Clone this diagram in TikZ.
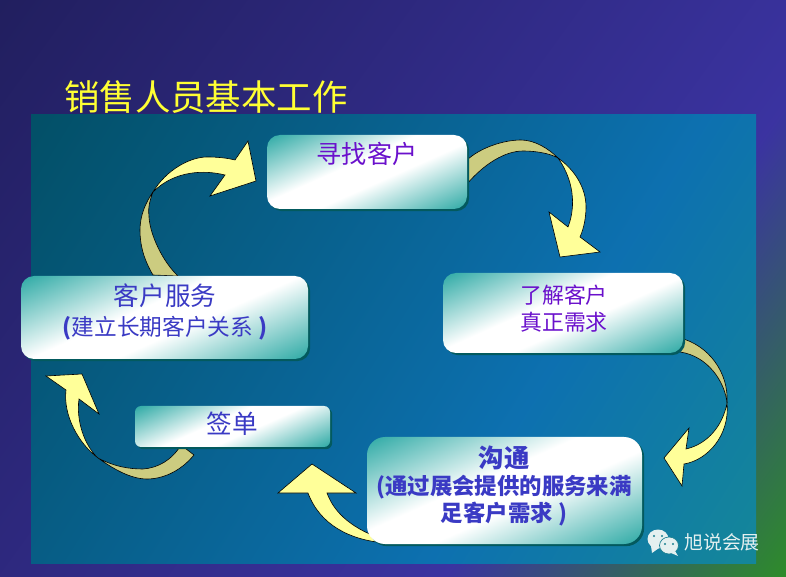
\documentclass[tikz,border=0pt]{standalone}
\usepackage{fontspec}
\setmainfont{Noto Sans CJK SC}
\usetikzlibrary{shadows}
\definecolor{titleyellow}{HTML}{FFFF33}
\definecolor{arrowfront}{HTML}{FFFF99}
\definecolor{arrowback}{HTML}{CCCC80}
\definecolor{boxshadow}{HTML}{035A5E}
\definecolor{textpurple}{HTML}{6A10CC}
\definecolor{textblue}{HTML}{3A3AC4}
\definecolor{markwhite}{HTML}{E4F0F0}
\definecolor{markeye}{HTML}{1A7F90}
\pgfdeclarehorizontalshading{outershade}{100bp}{
	rgb(0bp)=(.13,.12,.37);
	rgb(15bp)=(.13,.12,.37);
	rgb(65bp)=(.23,.20,.63);
	rgb(85bp)=(.18,.55,.16);
	rgb(100bp)=(.18,.55,.16)}
\pgfdeclarehorizontalshading{panelshade}{100bp}{
	rgb(0bp)=(.01,.31,.40);
	rgb(15bp)=(.01,.31,.40);
	rgb(62bp)=(.05,.44,.69);
	rgb(85bp)=(.08,.53,.60);
	rgb(100bp)=(.08,.53,.60)}
\pgfdeclarehorizontalshading{boxshade}{100bp}{
	rgb(0bp)=(.09,.63,.61);
	rgb(14bp)=(.09,.63,.61);
	rgb(44bp)=(1,1,1);
	rgb(56bp)=(1,1,1);
	rgb(86bp)=(.09,.63,.61);
	rgb(100bp)=(.09,.63,.61)}
\tikzset{
	boxnode/.style={shading=boxshade, shading angle=-66, rounded corners=13*.75pt, inner sep=0pt,
		drop shadow={shadow xshift=1.6pt, shadow yshift=-1.6pt, fill=boxshadow, opacity=1}},
	curlfront/.style={fill=arrowfront, draw=black, line width=.45pt, line join=miter},
	curlback/.style={fill=arrowback, draw=black, line width=.45pt},
	purplelabel/.style={text=textpurple, inner sep=0pt},
	bluelabel/.style={text=textblue, inner sep=0pt},
	boldlabel/.style={text=textblue, inner sep=0pt, font=\bfseries}
}
\begin{document}
\begin{tikzpicture}[x=.75pt, y=-.75pt]
	\useasboundingbox (0,0) rectangle (786,577);
	%background
	\shade[shading=outershade, shading angle=-36] (0,0) rectangle (786,577);
	\node[text=titleyellow, inner sep=0pt, font=\fontsize{26.6}{28}\selectfont] (title) at (206,97) {销售人员基本工作};
	\shade[shading=panelshade, shading angle=-32] (31,114.4) rectangle (756,563.6);
	%arrow service to find
	\draw[curlback] (153,275) .. controls (143,258) and (140,244) .. (140,230)
		.. controls (140,215) and (146,202) .. (153,192)
		.. controls (149,202) and (148,210) .. (149,217)
		.. controls (150,235) and (163,262) .. (178,276) -- cycle;
	\draw[curlfront] (153,192) .. controls (166,170) and (190,157) .. (207,157)
		.. controls (218,157) and (227,158) .. (235,160)
		-- (248,141) -- (256,181) -- (210,196) -- (225,175)
		.. controls (205,170) and (175,170) .. (153,192) -- cycle;
	%arrow find to need
	\draw[curlback] (467,160) .. controls (480,148) and (503,140) .. (521,140)
		.. controls (535,140) and (549,149) .. (558,158)
		.. controls (549,153) and (535,151) .. (523,151)
		.. controls (505,151) and (484,164) .. (467,184) -- cycle;
	\draw[curlfront] (558,158) .. controls (575,170) and (586,188) .. (586,207)
		.. controls (586,217) and (584,228) .. (580,237)
		-- (600,252) -- (560,257) -- (549,212) -- (568,227)
		.. controls (574,212) and (577,185) .. (558,158) -- cycle;
	%arrow need to talk
	\draw[curlback] (680,338) .. controls (708,345) and (729,372) .. (727,403)
		.. controls (725,382) and (708,356) .. (680,352) -- cycle;
	\draw[curlfront] (727,403) .. controls (723,425) and (708,444) .. (686,449)
		-- (689,428) -- (664,458) -- (682,486) -- (684,464)
		.. controls (708,460) and (730,435) .. (727,403) -- cycle;
	%arrow talk to sign
	\draw[curlfront] (385,543) .. controls (350,540) and (320,525) .. (308,493)
		-- (278,493) -- (312,464) -- (356,493) -- (327,493)
		.. controls (335,515) and (355,530) .. (385,540) -- cycle;
	%arrow sign to service
	\draw[curlback] (181,445) -- (194,455) .. controls (180,472) and (162,479) .. (147,479)
		.. controls (130,479) and (112,468) .. (98,458)
		.. controls (115,467) and (130,469) .. (143,469)
		.. controls (158,468) and (172,460) .. (181,445) -- cycle;
	\draw[curlfront] (98,458) .. controls (78,443) and (63,415) .. (66,390)
		-- (46,376) -- (82,374) -- (99,414) -- (79,399)
		.. controls (76,420) and (84,445) .. (98,458) -- cycle;
	%boxes
	\node[boxnode, minimum width=150pt, minimum height=55.5pt] (find) at (367,172) {};
	\node[boxnode, minimum width=180pt, minimum height=60pt] (need) at (563,313) {};
	\node[boxnode, minimum width=215.25pt, minimum height=62.25pt] (service) at (164.5,317.5) {};
	\node[boxnode, rounded corners=4.5pt, minimum width=146.25pt, minimum height=30.75pt] (sign) at (232.5,426.5) {};
	\node[boxnode, rounded corners=13.5pt, minimum width=206.25pt, minimum height=80.25pt] (talk) at (504.5,490.5) {};
	%labels
	\node[purplelabel, font=\fontsize{18.8}{20}\selectfont] (findtext) at (367,154) {寻找客户};
	\node[purplelabel, font=\fontsize{16.4}{18}\selectfont] (needtext) at (564,295) {了解客户};
	\node[purplelabel, font=\fontsize{16.4}{18}\selectfont] (needtextb) at (564,322) {真正需求};
	\node[bluelabel, font=\fontsize{19.2}{21}\selectfont] (servicetext) at (165,296) {客户服务};
	\node[bluelabel, font=\fontsize{17}{18}\selectfont] (servicetextb) at (165,328) {{\bfseries(}建立长期客户关系 {\bfseries)}};
	\node[bluelabel, font=\fontsize{19.2}{21}\selectfont] (signtext) at (232,424) {签单};
	\node[boldlabel, font=\fontsize{19}{21}\selectfont\bfseries] (talktext) at (504,458) {沟通};
	\node[boldlabel, font=\fontsize{16.8}{18}\selectfont\bfseries] (talktextb) at (504,487) {(通过展会提供的服务来满};
	\node[boldlabel, font=\fontsize{16.8}{18}\selectfont\bfseries] (talktextc) at (504,514) {足客户需求 )};
	%mark
	\fill[markwhite] (658,539) ellipse (10.5 and 9.5);
	\fill[markwhite] (651,546) -- (652,553) -- (659,548) -- cycle;
	\draw[fill=markwhite, draw=markeye, line width=.5pt] (669,545.5) ellipse (9.5 and 8.5);
	\fill[markwhite] (675,551) -- (678,556) -- (671,553) -- cycle;
	\fill[markeye] (654,536) circle (1.2) (662,536) circle (1.2) (665,544) circle (1.1) (673,544) circle (1.1);
	\node[text=markwhite, inner sep=0pt, font=\fontsize{14.2}{16}\selectfont] (marktext) at (722,542) {旭说会展};
\end{tikzpicture}
\end{document}
